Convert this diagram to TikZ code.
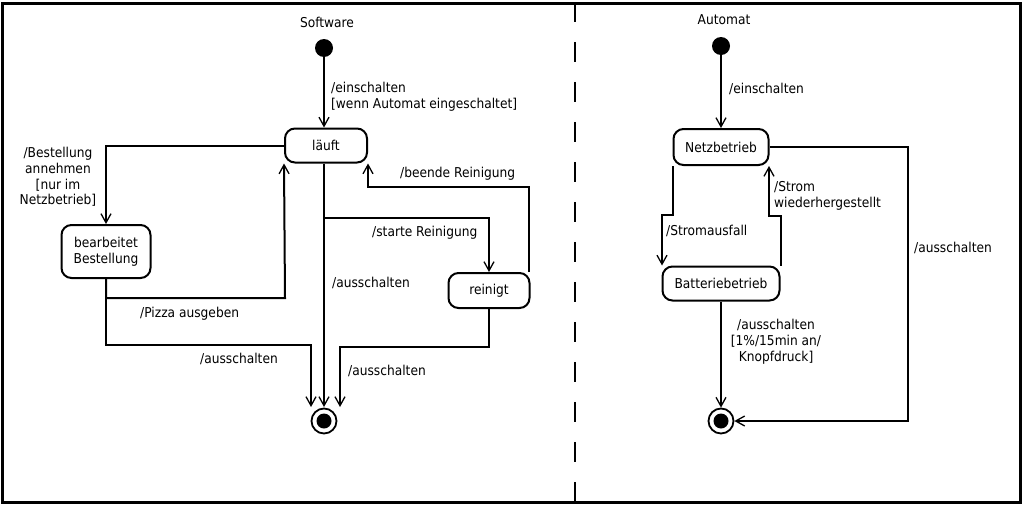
\documentclass[tikz,border=0pt]{standalone}
\usepackage{fontspec}
\setmainfont[FakeStretch=0.9]{DejaVu Sans}
\usetikzlibrary{arrows.meta}
\begin{document}
\begin{tikzpicture}[x=1pt,y=-1pt,
  every node/.style={font=\fontsize{13.6}{15.8}\selectfont, inner sep=0pt},
  state/.style={draw, line width=2pt, rounded corners=10pt, fill=white},
  conn/.style={line width=2pt},
  arr/.style={conn, -{Straight Barb[length=9pt,width=10pt,line width=1.3pt]}},
  initst/.style={circle, fill=black, minimum size=18pt},
  finalst/.style={circle, draw, line width=1.8pt, minimum size=25pt},
  lbl/.style={anchor=west}]
\useasboundingbox (0,0) rectangle (1025,506);
\fill[white] (0,0) rectangle (1025,506);
\draw[line width=3pt] (2,3) rectangle (1020,502);
\draw[line width=2.5pt, dash pattern=on 20pt off 20pt] (575,2) -- (575,502);

% ---------- Software ----------
\node (t1) at (327,22) {Software};
\node[initst] (i1) at (324,48) {};
\node[state, minimum width=82pt, minimum height=34pt] (lauft) at (326,145.5) {läuft};
\node[state, minimum width=89pt, minimum height=53pt, align=center] (bb) at (106,251.5) {bearbeitet\\Bestellung};
\node[state, minimum width=81pt, minimum height=35pt] (rein) at (489,290.5) {reinigt};
\node[finalst] (f1) at (324,421) {};
\fill (f1) circle (7.5pt);

\coordinate (c1) at (324,218);
\coordinate (c2) at (285,298);
\coordinate (c3) at (311,345);
\coordinate (c4) at (311,407);
\coordinate (c5) at (529,187);
\coordinate (c6) at (340,347);
\coordinate (c7) at (340,407);
\coordinate (c8) at (324,407);

\draw[arr] (i1.south) -- (i1.south |- lauft.north);
\draw[arr] (lauft.west) -| (bb.north);
\draw[arr] (bb.south) |- (c2) -- (lauft.south west);
\draw[arr] (bb.south) |- (c3) -- (c4);
\draw[arr] (lauft.south -| c8) -- (c8);
\draw[arr] (c1) -| (rein.north);
\draw[arr] (c5 |- rein.north) -- (c5) -| (lauft.south east);
\draw[arr] (rein.south) |- (c6) -- (c7);

\node[lbl, align=left] at (331,96.5) {/einschalten\\{[}wenn Automat eingeschaltet{]}};
\node[align=center] at (58,177) {/Bestellung\\annehmen\\{[}nur im\\Netzbetrieb{]}};
\node[lbl] at (140,314) {/Pizza ausgeben};
\node[lbl] at (200,359) {/ausschalten};
\node[lbl] at (332,283) {/ausschalten};
\node[lbl] at (372,233) {/starte Reinigung};
\node[lbl] at (400,174) {/beende Reinigung};
\node[lbl] at (348,371) {/ausschalten};

% ---------- Automat ----------
\node (t2) at (724,20) {Automat};
\node[initst] (i2) at (721,46) {};
\node[state, minimum width=95pt, minimum height=36pt] (netz) at (721,147) {Netzbetrieb};
\node[state, minimum width=117pt, minimum height=34pt] (batt) at (721,283.5) {Batteriebetrieb};
\node[finalst] (f2) at (721,421) {};
\fill (f2) circle (7.5pt);

\coordinate (d1) at (662,215);
\coordinate (d2) at (769,216);
\coordinate (d3) at (908,147);

\draw[arr] (i2.south) -- (i2.south |- netz.north);
\draw[arr] (netz.south west) |- (d1) -- (d1 |- batt.north);
\draw[arr] (batt.north east) |- (d2) -- (d2 |- netz.south);
\draw[arr] (netz.east) -- (d3) |- (f2.east);
\draw[arr] (batt.south) -- (f2.north);

\node[lbl] at (729,89) {/einschalten};
\node[lbl] at (666,231) {/Stromausfall};
\node[lbl, align=left] at (774,195.5) {/Strom\\wiederhergestellt};
\node[lbl] at (914,248) {/ausschalten};
\node[align=center] at (776,342) {/ausschalten\\{[}1\%/15min an/\\Knopfdruck{]}};
\end{tikzpicture}
\end{document}
